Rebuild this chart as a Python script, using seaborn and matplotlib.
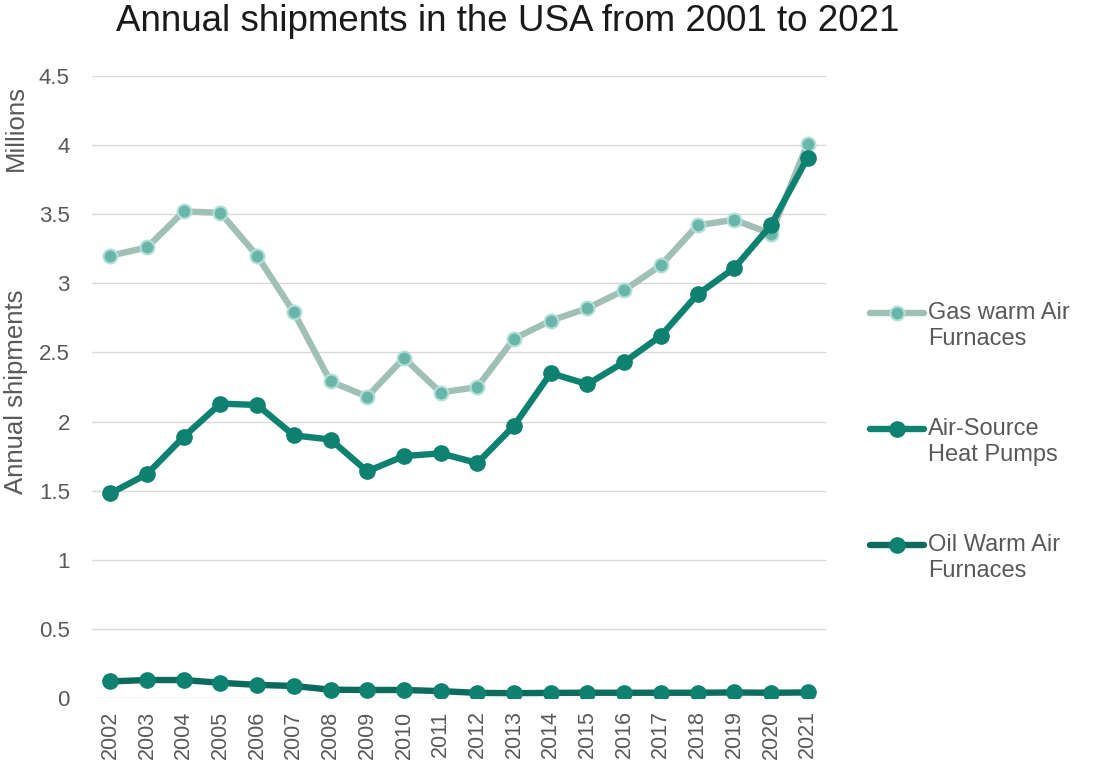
import matplotlib
matplotlib.use("Agg")
import matplotlib.pyplot as plt
import seaborn as sns
import pandas as pd
import numpy as np
from matplotlib.legend_handler import HandlerLine2D

years = list(range(2002, 2022))
gas_furnaces = [3.20, 3.26, 3.52, 3.51, 3.20, 2.79, 2.29, 2.18, 2.46, 2.21,
                2.25, 2.60, 2.73, 2.82, 2.95, 3.13, 3.42, 3.46, 3.36, 4.01]
heat_pumps = [1.48, 1.62, 1.89, 2.13, 2.12, 1.90, 1.87, 1.64, 1.75, 1.77,
              1.70, 1.97, 2.35, 2.27, 2.43, 2.62, 2.92, 3.11, 3.42, 3.91]
oil_furnaces = [0.12, 0.13, 0.13, 0.11, 0.095, 0.087, 0.06, 0.058, 0.058, 0.05,
                0.037, 0.035, 0.037, 0.038, 0.038, 0.038, 0.038, 0.04, 0.038, 0.04]
series_names = ["Gas warm Air\nFurnaces", "Air-Source\nHeat Pumps", "Oil Warm Air\nFurnaces"]
y_ticks = [0, 0.5, 1, 1.5, 2, 2.5, 3, 3.5, 4, 4.5]
y_tick_labels = ["0", "0.5", "1", "1.5", "2", "2.5", "3", "3.5", "4", "4.5"]

sns.set_style("white")
plt.rcParams["font.family"] = ["Liberation Sans", "DejaVu Sans"]
text_col = "#595959"

fig = plt.figure(figsize=(10.94, 7.74), dpi=100)
ax = fig.add_axes([92 / 1094, 1 - 698 / 774, (826 - 92) / 1094, (698 - 76) / 774])

df = pd.DataFrame({"year": years, "gas": gas_furnaces, "hp": heat_pumps, "oil": oil_furnaces})

sns.lineplot(data=df, x="year", y="gas", ax=ax, color="#A0BFB7", lw=4.6,
             marker="o", markersize=10, markerfacecolor="#6AB5AA",
             markeredgecolor="#B2E0D7", markeredgewidth=1.5,
             label=series_names[0], zorder=3)
sns.lineplot(data=df, x="year", y="hp", ax=ax, color="#0F8170", lw=4.6,
             marker="o", markersize=11, markerfacecolor="#0F8170",
             markeredgecolor="#0F8170", markeredgewidth=1,
             label=series_names[1], zorder=4)
sns.lineplot(data=df, x="year", y="oil", ax=ax, color="#0D6B5D", lw=4.6,
             marker="o", markersize=11, markerfacecolor="#0F8170",
             markeredgecolor="#0F8170", markeredgewidth=1,
             label=series_names[2], zorder=5)

ax.set_xlim(2001.5, 2021.5)
ax.set_ylim(0, 4.5)
ax.set_xticks(years)
ax.set_xticklabels([str(y) for y in years], rotation=90, fontsize=15.5, color=text_col)
ax.set_yticks(y_ticks)
ax.set_yticklabels(y_tick_labels, fontsize=16, color=text_col)
ax.tick_params(axis="both", length=0)
ax.tick_params(axis="y", pad=16)
ax.tick_params(axis="x", pad=9)
ax.grid(axis="y", color="#D9D9D9", lw=1)
ax.grid(axis="x", visible=False)
for s in ax.spines.values():
    s.set_visible(False)
ax.set_xlabel("")
ax.set_ylabel("")


class UpHandler(HandlerLine2D):
    def create_artists(self, legend, orig_handle, xdescent, ydescent, width,
                       height, fontsize, trans):
        artists = super().create_artists(legend, orig_handle, xdescent, ydescent,
                                         width, height, fontsize, trans)
        for a in artists:
            a.set_ydata(np.asarray(a.get_ydata(), dtype=float) + 0.56 * fontsize)
        return artists


handles, labels = ax.get_legend_handles_labels()
ax.get_legend().remove()
fig.legend(handles, labels, loc="center left", bbox_to_anchor=(870 / 1094, 1 - 442 / 774),
           frameon=False, fontsize=17, labelcolor=text_col, borderpad=0, borderaxespad=0,
           handlelength=2.3, handletextpad=0.15, labelspacing=2.9,
           handler_map={h: UpHandler() for h in handles})

fig.text(508 / 1094, 1 - 4 / 774, "Annual shipments in the USA from 2001 to 2021",
         ha="center", va="top", fontsize=26.5, color="#1a1a1a")
fig.text(16 / 1094, 1 - 392 / 774, "Annual shipments", rotation=90,
         ha="center", va="center", fontsize=18.5, color=text_col)
fig.text(16 / 1094, 1 - 128 / 774, "Millions", rotation=90,
         ha="center", va="center", fontsize=18.5, color=text_col)

fig.savefig("out.png", dpi=100)
